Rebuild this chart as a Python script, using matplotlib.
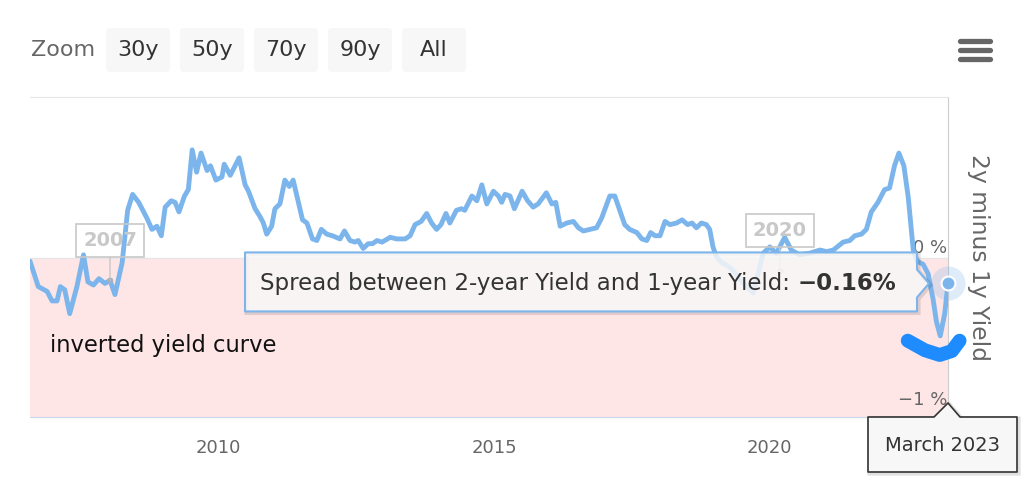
import matplotlib
matplotlib.use('Agg')
import matplotlib.pyplot as plt
from matplotlib.patches import FancyBboxPatch, Polygon

# spread between 2y and 1y yield (%), dates as decimal years
years = [
    2006.59, 2006.74, 2006.90, 2006.99, 2007.08, 2007.14, 2007.22, 2007.31, 2007.44, 2007.56,
    2007.64, 2007.74, 2007.84, 2007.95, 2008.04, 2008.13, 2008.26, 2008.36, 2008.45, 2008.56,
    2008.71, 2008.80, 2008.89, 2008.97, 2009.04, 2009.15, 2009.22, 2009.29, 2009.39, 2009.46,
    2009.53, 2009.61, 2009.69, 2009.80, 2009.86, 2009.96, 2010.07, 2010.11, 2010.22, 2010.38,
    2010.49, 2010.55, 2010.67, 2010.76, 2010.82, 2010.88, 2010.97, 2011.03, 2011.12, 2011.21,
    2011.29, 2011.36, 2011.53, 2011.61, 2011.71, 2011.79, 2011.87, 2011.97, 2012.07, 2012.21,
    2012.29, 2012.39, 2012.48, 2012.54, 2012.63, 2012.72, 2012.80, 2012.88, 2012.97, 2013.12,
    2013.24, 2013.39, 2013.48, 2013.57, 2013.68, 2013.78, 2013.87, 2013.96, 2014.04, 2014.13,
    2014.20, 2014.32, 2014.41, 2014.47, 2014.60, 2014.69, 2014.78, 2014.87, 2014.99, 2015.08,
    2015.14, 2015.20, 2015.29, 2015.37, 2015.51, 2015.61, 2015.71, 2015.80, 2015.95, 2016.05,
    2016.12, 2016.20, 2016.32, 2016.44, 2016.53, 2016.62, 2016.74, 2016.86, 2016.95, 2017.10,
    2017.19, 2017.28, 2017.37, 2017.46, 2017.59, 2017.68, 2017.77, 2017.84, 2017.92, 2018.01,
    2018.10, 2018.19, 2018.31, 2018.41, 2018.51, 2018.59, 2018.67, 2018.76, 2018.85, 2018.91,
    2018.97, 2019.03, 2019.13, 2019.24, 2019.34, 2019.52, 2019.70, 2019.88, 2020.00, 2020.12,
    2020.27, 2020.39, 2020.54, 2020.72, 2020.91, 2021.03, 2021.15, 2021.33, 2021.45, 2021.54,
    2021.66, 2021.75, 2021.84, 2021.96, 2022.08, 2022.17, 2022.26, 2022.34, 2022.43, 2022.51,
    2022.60, 2022.67, 2022.78, 2022.87, 2022.96, 2023.02, 2023.09, 2023.17, 2023.23,
]
spread = [
    -0.02, -0.18, -0.21, -0.27, -0.27, -0.18, -0.20, -0.35, -0.18, 0.02,
    -0.15, -0.17, -0.13, -0.16, -0.14, -0.23, -0.03, 0.30, 0.40, 0.35,
    0.25, 0.18, 0.20, 0.14, 0.32, 0.36, 0.35, 0.29, 0.39, 0.43,
    0.68, 0.54, 0.66, 0.55, 0.58, 0.49, 0.51, 0.59, 0.52, 0.63,
    0.46, 0.42, 0.31, 0.26, 0.22, 0.15, 0.20, 0.31, 0.34, 0.49,
    0.45, 0.49, 0.24, 0.22, 0.12, 0.11, 0.18, 0.15, 0.14, 0.12,
    0.17, 0.11, 0.10, 0.11, 0.06, 0.09, 0.09, 0.11, 0.10, 0.13,
    0.12, 0.12, 0.14, 0.21, 0.23, 0.28, 0.22, 0.18, 0.21, 0.28,
    0.22, 0.30, 0.31, 0.30, 0.39, 0.36, 0.46, 0.34, 0.42, 0.39,
    0.35, 0.40, 0.39, 0.31, 0.42, 0.36, 0.32, 0.34, 0.41, 0.34,
    0.35, 0.20, 0.22, 0.23, 0.19, 0.17, 0.18, 0.19, 0.25, 0.39,
    0.39, 0.30, 0.21, 0.18, 0.16, 0.12, 0.11, 0.16, 0.14, 0.14,
    0.23, 0.21, 0.22, 0.24, 0.21, 0.22, 0.19, 0.22, 0.21, 0.18,
    0.07, 0.01, -0.03, -0.05, -0.08, -0.16, -0.22, 0.03, 0.07, 0.03,
    0.13, 0.05, 0.02, 0.03, 0.05, 0.04, 0.05, 0.10, 0.11, 0.14,
    0.15, 0.18, 0.29, 0.35, 0.43, 0.44, 0.58, 0.66, 0.58, 0.38,
    0.05, -0.02, -0.04, -0.10, -0.26, -0.40, -0.49, -0.35, -0.16,
]

x_ticks = [2010, 2015, 2020]
y_ticks = [0, -1]
y_tick_labels = ['0 %', '\u22121 %']

flag_years = [2008.04, 2020.18]
flag_values = [-0.14, -0.08]
flag_labels = ['2007', '2020']

# hand drawn blue stroke near the end of the series
smile_years = [2022.50, 2022.81, 2023.08, 2023.30, 2023.44]
smile_values = [-0.52, -0.58, -0.61, -0.585, -0.52]

zoom_buttons = ['30y', '50y', '70y', '90y', 'All']
hover_date = 'March 2023'
tooltip_text = 'Spread between 2-year Yield and 1-year Yield: '

W, H = 1036, 494
LINE = '#7cb5ec'
GRAY = '#666666'
DARK = '#333333'


def draw_chart(fig):
    ax = fig.add_axes([30 / W, 1 - 417 / H, 918 / W, 320 / H])
    ax.set_xlim(years[0], years[-1])
    ax.set_ylim(-1, 1.0126)

    # inverted yield curve band
    ax.axhspan(-1, 0, color='#ffe6e6', lw=0, zorder=0)
    ax.axhline(0, color='#e6e6e6', lw=1, zorder=1)
    ax.plot(years, spread, color=LINE, lw=3.5, solid_joinstyle='round',
            solid_capstyle='round', zorder=3)

    ax.spines['left'].set_visible(False)
    ax.spines['top'].set_color('#e6e6e6')
    ax.spines['right'].set_color('#cccccc')
    ax.spines['bottom'].set_color('#ccd6eb')

    ax.set_xticks(x_ticks)
    ax.set_xticklabels([str(t) for t in x_ticks])
    ax.tick_params(axis='x', length=0, pad=16, labelsize=13, labelcolor=GRAY)
    ax.set_yticks([])

    for v, lab, off in zip(y_ticks, y_tick_labels, [5, 12]):
        ax.annotate(lab, xy=(1, v), xycoords=('axes fraction', 'data'),
                    xytext=(-1, off), textcoords='offset pixels',
                    ha='right', va='baseline', fontsize=13, color=GRAY, zorder=2)
    ax.text(1.0327, 0.5, '2y minus 1y Yield', transform=ax.transAxes,
            rotation=270, ha='center', va='center', fontsize=16.8, color=GRAY)

    ax.text(0.0218, 0.225, 'inverted yield curve', transform=ax.transAxes,
            fontsize=16.3, va='center', color='#111111')

    # flags
    for fx, fy, lab in zip(flag_years, flag_values, flag_labels):
        ax.annotate(lab, xy=(fx, fy), xytext=(0, 40), textcoords='offset pixels',
                    ha='center', va='center', fontsize=14, fontweight='bold',
                    color='#c8c8c8',
                    bbox=dict(boxstyle='square,pad=0.36', fc='none', ec='#c8c8c8', lw=1.2),
                    arrowprops=dict(arrowstyle='-', color='#c8c8c8', lw=1,
                                    shrinkA=0, shrinkB=0),
                    zorder=4)
        ax.plot(fx, fy, 'o', ms=3, mfc='none', mec='#b0b0b0', zorder=4)

    ax.plot(smile_years, smile_values, color='#1e8cff', lw=10,
            solid_capstyle='round', solid_joinstyle='round', clip_on=False, zorder=6)

    # hovered point
    ax.plot(years[-1], spread[-1], 'o', ms=24.5, color=LINE, alpha=0.25, mew=0,
            clip_on=False, zorder=7)
    ax.plot(years[-1], spread[-1], 'o', ms=10, mfc=LINE, mec='white', mew=1.5,
            clip_on=False, zorder=8)
    return ax


def draw_overlay(fig, ax):
    # pixel space layer, y measured from the top like the screenshot
    deco = fig.add_axes([0, 0, 1, 1], zorder=5)
    deco.set_xlim(0, W)
    deco.set_ylim(H, 0)
    deco.axis('off')
    deco.patch.set_alpha(0)

    # range selector
    deco.text(31, 50, 'Zoom', ha='left', va='center', fontsize=16, color=GRAY)
    for i, lab in enumerate(zoom_buttons):
        x0 = 106 + 74 * i
        deco.add_patch(FancyBboxPatch((x0, 28), 64, 44,
                                      boxstyle='round,pad=0,rounding_size=4',
                                      fc='#f7f7f7', ec='none'))
        deco.text(x0 + 32, 50, lab, ha='center', va='center', fontsize=16, color=DARK)

    # menu icon
    for yy in [41, 50, 59]:
        deco.plot([960, 990], [yy, yy], color=GRAY, lw=3.8, solid_capstyle='round')

    px, py = ax.transData.transform((years[-1], spread[-1]))
    py = H - py
    ax_bottom = H - ax.get_position().y0 * H

    # series tooltip with a notch pointing at the last point
    R = px - 31
    L = R - 672
    T = py - 31
    B = py + 28
    pts = [(L, T), (R, T), (R, py - 14), (px - 19, py), (R, py + 14), (R, B), (L, B)]
    shadow = [(x + 1.5, y + 1.5) for x, y in pts]
    deco.add_patch(Polygon(shadow, closed=True, fc='none', ec='black', alpha=0.12, lw=3))
    deco.add_patch(Polygon(pts, closed=True, fc=(0.969, 0.969, 0.969, 0.85),
                           ec=LINE, lw=1.5, joinstyle='round'))
    t1 = deco.text(L + 15, py, tooltip_text, ha='left', va='center',
                   fontsize=16.5, color=DARK)
    deco.annotate('\u22120.16%', xy=(1, 0.5), xycoords=t1, ha='left', va='center',
                  fontsize=16.5, fontweight='bold', color=DARK)

    # date tooltip under the axis
    L2, R2 = px - 80, px + 69
    T2 = ax_bottom
    B2 = T2 + 55
    pts2 = [(L2, T2), (px - 14, T2), (px, T2 - 14), (px + 12, T2), (R2, T2), (R2, B2), (L2, B2)]
    shadow2 = [(x + 1.5, y + 1.5) for x, y in pts2]
    deco.add_patch(Polygon(shadow2, closed=True, fc='none', ec='black', alpha=0.12, lw=3))
    deco.add_patch(Polygon(pts2, closed=True, fc='#f7f7f7', ec=DARK, lw=1.2,
                           joinstyle='round'))
    deco.text((L2 + R2) / 2, (T2 + B2) / 2 + 1, hover_date, ha='center', va='center',
              fontsize=14, color=DARK)


def main():
    plt.rcParams['font.family'] = ['DejaVu Sans']
    fig = plt.figure(figsize=(W / 100, H / 100), dpi=100)
    ax = draw_chart(fig)
    draw_overlay(fig, ax)
    fig.savefig('out.png', dpi=100)


if __name__ == '__main__':
    main()
